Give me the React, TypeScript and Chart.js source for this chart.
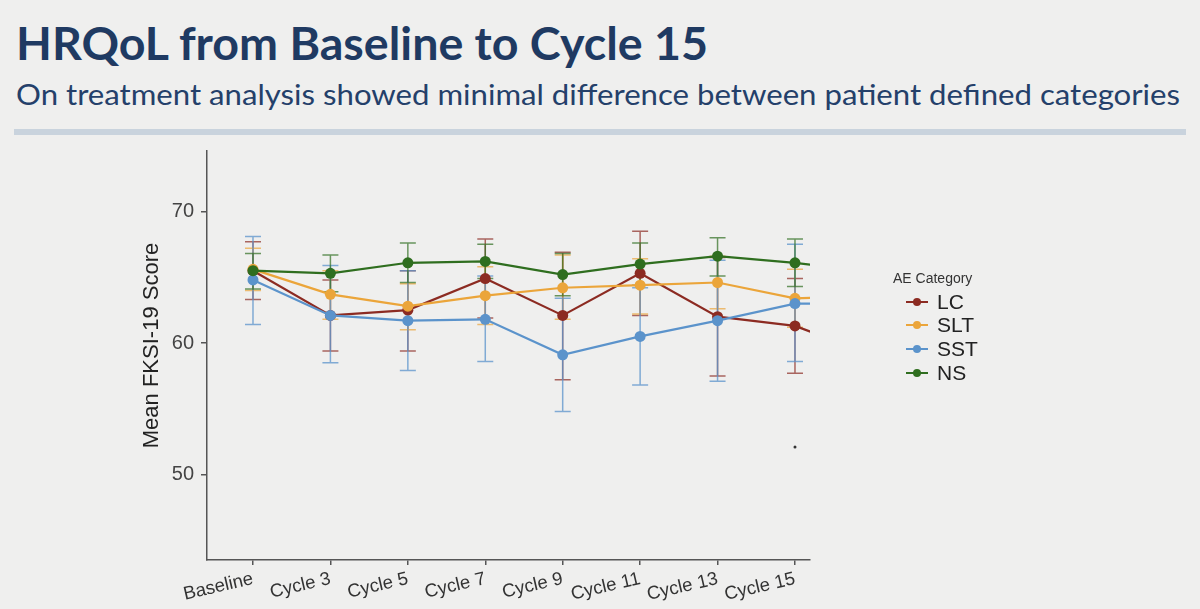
import React, { useEffect, useLayoutEffect, useRef } from 'react';
import { Chart, registerables } from 'chart.js';

Chart.register(...registerables);

// Visit labels along the x axis (the last one sits just past the visible range)
const categories = ['Baseline', 'Cycle 3', 'Cycle 5', 'Cycle 7', 'Cycle 9', 'Cycle 11', 'Cycle 13', 'Cycle 15', 'Cycle 17'];
const yTickValues = [50, 60, 70];

// Mean FKSI-19 score per AE category, with lower / upper error bar limits
const lcMean = [65.5, 62.1, 62.5, 64.9, 62.1, 65.3, 62.0, 61.3, 59.1];
const lcLow = [63.3, 59.4, 59.4, 61.9, 57.2, 62.1, 57.5, 57.7, null];
const lcHigh = [67.7, 64.8, 65.5, 67.9, 66.9, 68.5, 66.5, 64.9, null];

const sltMean = [65.6, 63.7, 62.8, 63.6, 64.2, 64.4, 64.6, 63.4, 63.6];
const sltLow = [64.0, 61.8, 61.0, 61.4, 61.8, 62.2, 62.6, 61.2, null];
const sltHigh = [67.2, 65.5, 64.5, 65.8, 66.7, 66.4, 66.6, 65.6, null];

const sstMean = [64.8, 62.1, 61.7, 61.8, 59.1, 60.5, 61.7, 63.0, 63.0];
const sstLow = [61.4, 58.5, 57.9, 58.6, 54.8, 56.8, 57.1, 58.6, null];
const sstHigh = [68.1, 65.9, 65.5, 65.1, 63.4, 64.2, 66.3, 67.5, null];

const nsMean = [65.5, 65.3, 66.1, 66.2, 65.2, 66.0, 66.6, 66.1, 65.4];
const nsLow = [64.1, 63.9, 64.6, 64.9, 63.6, 64.4, 65.1, 64.3, null];
const nsHigh = [66.8, 66.7, 67.6, 67.5, 66.8, 67.6, 68.0, 67.9, null];

// Lone observation plotted under Cycle 15
const cycle15Outlier = 52.1;

const yAxisTitle = 'Mean FKSI-19 Score';
const legendTitle = 'AE Category';

const series = [
  { label: 'LC', mean: lcMean, low: lcLow, high: lcHigh, color: '#8c2b22', bar: 'rgba(140,43,34,0.7)', order: 4 },
  { label: 'SLT', mean: sltMean, low: sltLow, high: sltHigh, color: '#eba53a', bar: 'rgba(235,165,58,0.7)', order: 3 },
  { label: 'SST', mean: sstMean, low: sstLow, high: sstHigh, color: '#5b93cb', bar: 'rgba(91,147,203,0.75)', order: 2 },
  { label: 'NS', mean: nsMean, low: nsLow, high: nsHigh, color: '#2f6e1f', bar: 'rgba(47,110,31,0.7)', order: 1 },
];

const X_MIN = -0.594;
const X_MAX = 7.194;

const axisFont = "'Liberation Sans', Arial, sans-serif";

const errorBarPlugin = {
  id: 'errorBars',
  beforeDatasetsDraw(chart: any) {
    const { ctx, chartArea, scales } = chart;
    const x = scales.x;
    const y = scales.y;
    ctx.save();
    ctx.beginPath();
    ctx.rect(chartArea.left, chartArea.top, chartArea.right - chartArea.left, chartArea.bottom - chartArea.top);
    ctx.clip();
    ctx.lineWidth = 1.5;
    chart.data.datasets.forEach((ds: any) => {
      if (!ds.errorLow) return;
      ctx.strokeStyle = ds.errorColor;
      ds.errorLow.forEach((lo: number | null, i: number) => {
        const hi = ds.errorHigh[i];
        if (lo == null || hi == null) return;
        const px = x.getPixelForValue(i);
        const pLo = y.getPixelForValue(lo);
        const pHi = y.getPixelForValue(hi);
        const cap = 8;
        ctx.beginPath();
        ctx.moveTo(px, pLo);
        ctx.lineTo(px, pHi);
        ctx.moveTo(px - cap, pLo);
        ctx.lineTo(px + cap, pLo);
        ctx.moveTo(px - cap, pHi);
        ctx.lineTo(px + cap, pHi);
        ctx.stroke();
      });
    });
    ctx.restore();
  },
};

// Rotated y-axis title and the category legend to the right of the panel
const annotationPlugin = {
  id: 'aeLegend',
  afterDraw(chart: any) {
    const { ctx, chartArea } = chart;
    ctx.save();

    ctx.save();
    ctx.translate(152, (chartArea.top + chartArea.bottom) / 2 - 10);
    ctx.rotate(-Math.PI / 2);
    ctx.fillStyle = '#222222';
    ctx.font = `22px ${axisFont}`;
    ctx.textAlign = 'center';
    ctx.textBaseline = 'middle';
    ctx.fillText(yAxisTitle, 0, 0);
    ctx.restore();

    ctx.fillStyle = '#333333';
    ctx.font = `14px ${axisFont}`;
    ctx.textBaseline = 'middle';
    ctx.textAlign = 'left';
    ctx.fillText(legendTitle, 893, 139);
    const rows = [162, 185, 209, 233];
    series.forEach((s, i) => {
      const yy = rows[i];
      ctx.strokeStyle = s.color;
      ctx.lineWidth = 2;
      ctx.beginPath();
      ctx.moveTo(906, yy);
      ctx.lineTo(928, yy);
      ctx.stroke();
      ctx.fillStyle = s.color;
      ctx.beginPath();
      ctx.arc(917, yy, 4, 0, Math.PI * 2);
      ctx.fill();
      ctx.fillStyle = '#222222';
      ctx.font = `21px ${axisFont}`;
      ctx.fillText(s.label, 937, yy + 1);
    });
    ctx.restore();
  },
};

function FitText({ text, width, style }: { text: string; width: number; style: React.CSSProperties }) {
  const ref = useRef<HTMLSpanElement | null>(null);
  useLayoutEffect(() => {
    const el = ref.current;
    if (!el) return;
    el.style.transform = 'none';
    const w = el.getBoundingClientRect().width;
    if (w > 0) el.style.transform = `scaleX(${width / w})`;
  }, [text, width]);
  return (
    <span ref={ref} style={{ ...style, position: 'absolute', whiteSpace: 'nowrap', transformOrigin: 'left top', display: 'inline-block' }}>
      {text}
    </span>
  );
}

export default function App() {
  const canvasRef = useRef<HTMLCanvasElement | null>(null);

  useEffect(() => {
    const canvas = canvasRef.current;
    if (!canvas) return;

    const datasets: any[] = series.map((s) => ({
      label: s.label,
      data: s.mean.map((v, i) => ({ x: i, y: v })),
      errorLow: s.low,
      errorHigh: s.high,
      errorColor: s.bar,
      borderColor: s.color,
      backgroundColor: s.color,
      pointBackgroundColor: s.color,
      pointBorderWidth: 0,
      pointRadius: 5.5,
      borderWidth: 2.2,
      tension: 0,
      order: s.order,
      clip: 0,
    }));

    datasets.push({
      label: 'outlier',
      data: [{ x: 7, y: cycle15Outlier }],
      showLine: false,
      pointRadius: 1.5,
      pointBorderWidth: 0,
      pointBackgroundColor: '#333333',
      borderColor: '#333333',
      order: 0,
    });

    const chart = new Chart(canvas, {
      type: 'line',
      data: { datasets },
      options: {
        responsive: false,
        animation: false,
        events: [],
        layout: { padding: { left: 130, right: 390, top: 11, bottom: 0 } },
        plugins: {
          legend: { display: false },
          tooltip: { enabled: false },
        },
        scales: {
          x: {
            type: 'linear',
            min: X_MIN,
            max: X_MAX,
            afterBuildTicks: (scale: any) => {
              scale.ticks = categories
                .map((_, i) => ({ value: i }))
                .filter((t) => t.value >= X_MIN && t.value <= X_MAX);
            },
            afterFit: (scale: any) => {
              scale.height = 49;
              scale.paddingLeft = 0;
              scale.paddingRight = 0;
            },
            ticks: {
              autoSkip: false,
              minRotation: 13,
              maxRotation: 13,
              padding: 3,
              color: '#333333',
              font: { family: axisFont, size: 18.5 },
              callback: (v: any) => categories[v as number] ?? '',
            },
            grid: {
              display: true,
              drawOnChartArea: false,
              drawTicks: true,
              tickLength: 5,
              color: '#555555',
              lineWidth: 1.5,
            },
            border: { display: true, color: '#555555', width: 1.5 },
          },
          y: {
            type: 'linear',
            min: 43.5,
            max: 74.6,
            afterBuildTicks: (scale: any) => {
              scale.ticks = yTickValues.map((v) => ({ value: v }));
            },
            afterFit: (scale: any) => {
              scale.width = 77;
              scale.paddingTop = 0;
              scale.paddingBottom = 0;
            },
            ticks: {
              padding: 7,
              color: '#444444',
              font: { family: axisFont, size: 20 },
              callback: (v: any) => String(v),
            },
            grid: {
              display: true,
              drawOnChartArea: false,
              drawTicks: true,
              tickLength: 6,
              color: '#555555',
              lineWidth: 1.5,
            },
            border: { display: true, color: '#555555', width: 1.5 },
          },
        },
      } as any,
      plugins: [errorBarPlugin, annotationPlugin],
    });

    return () => chart.destroy();
  }, []);

  return (
    <div
      style={{
        position: 'absolute',
        left: 0,
        top: 0,
        width: 1200,
        height: 609,
        background: '#efefee',
        overflow: 'hidden',
        fontFamily: 'Lato, sans-serif',
      }}
    >
      <FitText
        text="HRQoL from Baseline to Cycle 15"
        width={692}
        style={{ left: 16, top: 20, fontSize: 46, lineHeight: '46px', fontWeight: 700, color: '#1f3a62' }}
      />
      <FitText
        text="On treatment analysis showed minimal difference between patient defined categories"
        width={1164}
        style={{ left: 16, top: 79, fontSize: 29, lineHeight: '29px', fontWeight: 400, color: '#24406a' }}
      />
      <div style={{ position: 'absolute', left: 14, top: 129, width: 1172, height: 6, background: '#c9d3dd' }} />
      <div style={{ position: 'absolute', left: 0, top: 140, width: 1200, height: 469 }}>
        <canvas ref={canvasRef} width={1200} height={469} style={{ width: 1200, height: 469, display: 'block' }} />
      </div>
    </div>
  );
}
